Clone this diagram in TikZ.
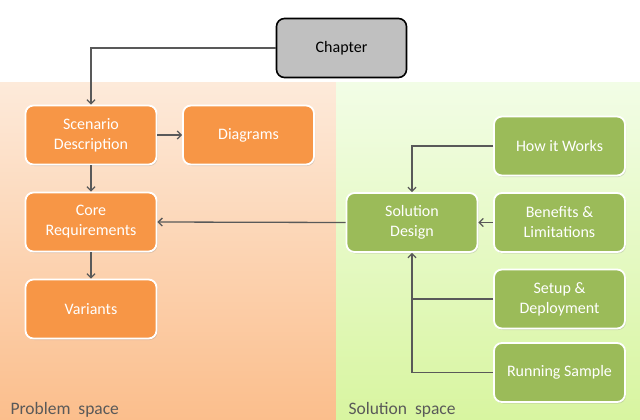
\documentclass[tikz,border=0pt]{standalone}
\usepackage{fontspec}
\setmainfont{Carlito}
\usepackage{tikz}
\usetikzlibrary{positioning,arrows.meta,shadows}
\definecolor{cOrange}{RGB}{247,150,70}
\definecolor{cGreen}{RGB}{155,187,89}
\definecolor{cGrey}{RGB}{192,192,192}
\definecolor{cLine}{RGB}{89,89,89}
\definecolor{pTop}{RGB}{253,234,218}
\definecolor{pBot}{RGB}{251,190,140}
\definecolor{sTop}{RGB}{242,253,230}
\definecolor{sBot}{RGB}{216,245,160}
\tikzset{
  box/.style={rectangle, rounded corners=8pt, draw=white, line width=1.8pt,
              minimum width=131pt, minimum height=59pt, align=center,
              text=white, font=\fontsize{16}{20}\selectfont,
              drop shadow={opacity=0.25, shadow xshift=1pt, shadow yshift=-1.5pt}},
  prob/.style={box, fill=cOrange},
  sol/.style={box, fill=cGreen},
  chap/.style={rectangle, rounded corners=8pt, draw=black, line width=1.6pt,
               fill=cGrey, minimum width=130pt, minimum height=59pt,
               font=\fontsize{16}{20}\selectfont},
  conn/.style={-{Straight Barb[length=4pt,width=8pt]}, draw=cLine, line width=1.3pt},
  link/.style={draw=cLine, line width=1.3pt},
  space/.style={anchor=base west, text=cLine, font=\fontsize{17.5}{20}\selectfont},
}
\begin{document}
\begin{tikzpicture}[x=1pt, y=-1pt, node distance=87pt, on grid]
  \useasboundingbox (0,0) rectangle (640,420);
  % --- the two spaces ---
  \shade[top color=pTop, bottom color=pBot] (0,83) rectangle (336,420);
  \shade[top color=sTop, bottom color=sBot] (336,83) rectangle (640,420);
  \node[space] (probl) at (7,414) {Problem\ \ space};
  \node[space] (solsp) at (345,414) {Solution\ \ space};

  % --- chapter ---
  \node[chap] (chapter) at (341.5,48) {Chapter};

  % --- problem space ---
  \node[prob] (scen) at (91,135) {Scenario\\Description};
  \node[prob,right=157.5pt of scen] (diag) {Diagrams};
  \node[prob,below=of scen] (core) {Core\\Requirements};
  \node[prob,below=of core] (var) {Variants};

  % --- solution space ---
  \node[sol] (design) at (412,222.5) {Solution\\Design};
  \node[sol] (works) at (559.5,146) {How it Works};
  \node[sol,below=76.5pt of works] (benef) {Benefits \&\\Limitations};
  \node[sol,below=76.5pt of benef] (setup) {Setup \&\\Deployment};
  \node[sol,below=73.5pt of setup] (run) {Running Sample};

  % --- connectors ---
  \draw[conn] (chapter.west) -| (scen.north);
  \draw[conn] (scen.east) -- (diag.west);
  \draw[conn] (scen.south) -- (core.north);
  \draw[conn] (core.south) -- (var.north);
  \draw[conn] (design.west) -- (core.east);
  \draw[conn] (works.west) -| (design.north);
  \draw[conn] (benef.west) -- (design.east);
  \coordinate (join) at (setup.west -| design.south);
  \draw[link] (setup.west) -- (join);
  \draw[conn] (run.west) -| (design.south);
\end{tikzpicture}
\end{document}
